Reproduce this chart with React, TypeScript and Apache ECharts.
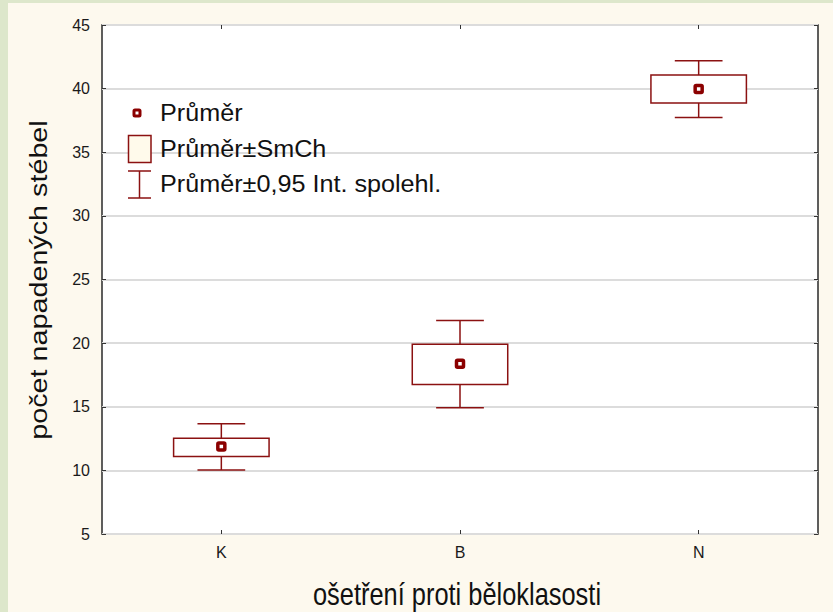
import React, { useEffect, useRef } from "react";
import * as echarts from "echarts";

const categories = ["K", "B", "N"];
const means = [11.87, 18.38, 39.98];
const seLow = [11.1, 16.74, 38.88];
const seHigh = [12.52, 19.92, 41.07];
const ciLow = [10.03, 14.92, 37.73];
const ciHigh = [13.66, 21.77, 42.2];
const yTicks = { min: 5, max: 45, interval: 5 };
const legendLabels = ["Průměr", "Průměr±SmCh", "Průměr±0,95 Int. spolehl."];
const xName = "ošetření proti běloklasosti";
const yName = "počet napadených stébel";

const FONT = "'Liberation Sans', Arial, sans-serif";
const RED = "#8b1111";
const MEAN = "#8b0000";

export default function App() {
  const ref = useRef<HTMLDivElement>(null);
  useEffect(() => {
    document.body.style.margin = "0";
    const chart = echarts.init(ref.current!, null, { renderer: "svg" });
    const data = categories.map((c, i) => [i, means[i], seLow[i], seHigh[i], ciLow[i], ciHigh[i]]);
    const option: any = {
      animation: false,
      backgroundColor: "#dde7cb",
      grid: {
        left: 102,
        top: 25,
        right: 15,
        bottom: 78,
        show: true,
        backgroundColor: "#ffffff",
        borderColor: "#2a2a2a",
        borderWidth: 1.5,
      },
      xAxis: [
        {
          type: "category",
          data: categories,
          position: "bottom",
          axisLine: { show: false },
          axisTick: { show: true, inside: true, length: 4, alignWithLabel: true, lineStyle: { color: "#333" } },
          axisLabel: { fontFamily: FONT, fontSize: 16, color: "#1a1a1a", margin: 10 },
          splitLine: { show: false },
        },
        {
          type: "category",
          data: categories,
          position: "top",
          axisLine: { show: false },
          axisTick: { show: true, inside: true, length: 4, alignWithLabel: true, lineStyle: { color: "#333" } },
          axisLabel: { show: false },
          splitLine: { show: false },
        },
      ],
      yAxis: [
        {
          type: "value",
          min: yTicks.min,
          max: yTicks.max,
          interval: yTicks.interval,
          position: "left",
          axisLine: { show: false },
          axisTick: { show: true, inside: true, length: 4, lineStyle: { color: "#333" } },
          axisLabel: { fontFamily: FONT, fontSize: 16, color: "#1a1a1a", margin: 12 },
          splitLine: { show: true, lineStyle: { color: "#dcdcdc", width: 2 } },
        },
        {
          type: "value",
          min: yTicks.min,
          max: yTicks.max,
          interval: yTicks.interval,
          position: "right",
          axisLine: { show: false },
          axisTick: { show: true, inside: true, length: 4, lineStyle: { color: "#333" } },
          axisLabel: { show: false },
          splitLine: { show: false },
        },
      ],
      graphic: [
        { type: "rect", z: -1, shape: { x: 8, y: 3, width: 825, height: 609 }, style: { fill: "#fdf9ee" }, silent: true },
        {
          type: "text",
          x: 457,
          y: 594,
          scaleX: 0.82,
          style: { text: xName, fontFamily: FONT, fontSize: 31, fill: "#111", align: "center", verticalAlign: "middle" },
        },
        {
          type: "text",
          x: 39,
          y: 280,
          rotation: Math.PI / 2,
          scaleX: 1.25,
          style: { text: yName, fontFamily: FONT, fontSize: 23, fill: "#111", align: "center", verticalAlign: "middle" },
        },
        // legend
        { type: "rect", z: 10, shape: { x: 134, y: 110, width: 6, height: 6, r: 1 }, style: { fill: "#fff", stroke: MEAN, lineWidth: 3 } },
        { type: "rect", z: 10, shape: { x: 128.5, y: 135.5, width: 22.5, height: 27 }, style: { fill: "#fffaeb", stroke: RED, lineWidth: 1.5 } },
        { type: "line", z: 10, shape: { x1: 128, y1: 171, x2: 151, y2: 171 }, style: { stroke: RED, lineWidth: 1.5 } },
        { type: "line", z: 10, shape: { x1: 128, y1: 198, x2: 151, y2: 198 }, style: { stroke: RED, lineWidth: 1.5 } },
        { type: "line", z: 10, shape: { x1: 139.5, y1: 171, x2: 139.5, y2: 198 }, style: { stroke: RED, lineWidth: 1.5 } },
        ...legendLabels.map((t, i) => ({
          type: "text",
          z: 10,
          x: 160,
          y: [113, 149, 184][i],
          scaleX: 1.05,
          style: { text: t, fontFamily: FONT, fontSize: 24, fill: "#111", align: "left", verticalAlign: "middle" },
        })),
      ],
      series: [
        {
          type: "custom",
          xAxisIndex: 0,
          yAxisIndex: 0,
          data,
          encode: { x: 0, y: [1, 2, 3, 4, 5] },
          renderItem: (params: any, api: any) => {
            const idx = api.value(0);
            const band = api.size([1, 0])[0];
            const boxW = band * 0.4;
            const capW = band * 0.2;
            const [x, yMean] = api.coord([idx, api.value(1)]);
            const yBoxLo = api.coord([idx, api.value(2)])[1];
            const yBoxHi = api.coord([idx, api.value(3)])[1];
            const yCiLo = api.coord([idx, api.value(4)])[1];
            const yCiHi = api.coord([idx, api.value(5)])[1];
            const ls = { stroke: RED, lineWidth: 1.5, fill: "none" };
            return {
              type: "group",
              children: [
                { type: "line", shape: { x1: x, y1: yCiHi, x2: x, y2: yBoxHi }, style: ls },
                { type: "line", shape: { x1: x, y1: yBoxLo, x2: x, y2: yCiLo }, style: ls },
                { type: "line", shape: { x1: x - capW / 2, y1: yCiHi, x2: x + capW / 2, y2: yCiHi }, style: ls },
                { type: "line", shape: { x1: x - capW / 2, y1: yCiLo, x2: x + capW / 2, y2: yCiLo }, style: ls },
                {
                  type: "rect",
                  shape: { x: x - boxW / 2, y: yBoxHi, width: boxW, height: yBoxLo - yBoxHi },
                  style: { stroke: RED, lineWidth: 1.5, fill: "#ffffff" },
                },
                {
                  type: "rect",
                  shape: { x: x - 3.5, y: yMean - 3.5, width: 7, height: 7, r: 1 },
                  style: { stroke: MEAN, lineWidth: 3.5, fill: "#ffffff" },
                },
              ],
            };
          },
        },
      ],
    };
    chart.setOption(option);
    return () => chart.dispose();
  }, []);
  return <div ref={ref} style={{ width: 833, height: 612 }} />;
}
